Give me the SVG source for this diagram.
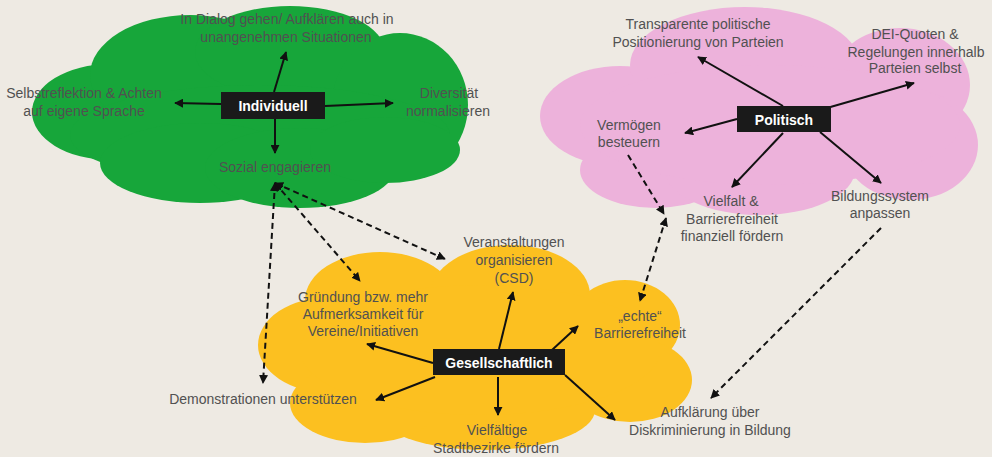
<svg xmlns="http://www.w3.org/2000/svg" width="992" height="457" viewBox="0 0 992 457">
<defs>
<marker id="ah" viewBox="0 0 10 10" refX="9" refY="5" markerWidth="9" markerHeight="9" markerUnits="userSpaceOnUse" orient="auto-start-reverse">
<path d="M0,0 L10,5 L0,10 z" fill="#111"/>
</marker>
</defs>
<style>
.lbl{font-family:"Liberation Sans",Arial,sans-serif;font-size:14px;fill:#515151;text-anchor:middle}
.box{fill:#1a1a1a}
.bt{font-family:"Liberation Sans",Arial,sans-serif;font-size:14px;font-weight:bold;fill:#ffffff;text-anchor:middle}
.sol{stroke:#111;stroke-width:2;fill:none;marker-end:url(#ah)}
.dsh{stroke:#111;stroke-width:2;fill:none;stroke-dasharray:6 4;marker-end:url(#ah)}
.dbl{marker-start:url(#ah)}
</style>
<rect width="992" height="457" fill="#EEEAE3"/>

<g id="cloud-green" fill="#17A63A">
<ellipse cx="110" cy="112" rx="78" ry="48"/>
<ellipse cx="190" cy="75" rx="100" ry="60"/>
<ellipse cx="290" cy="52" rx="95" ry="46"/>
<ellipse cx="400" cy="105" rx="68" ry="72"/>
<ellipse cx="260" cy="135" rx="190" ry="50"/>
<ellipse cx="200" cy="163" rx="100" ry="40"/>
<ellipse cx="300" cy="168" rx="95" ry="40"/>
<ellipse cx="385" cy="150" rx="75" ry="33"/>
</g>

<g id="cloud-pink" fill="#EDB2DB">
<ellipse cx="620" cy="116" rx="80" ry="50"/>
<ellipse cx="745" cy="65" rx="115" ry="58"/>
<ellipse cx="900" cy="85" rx="70" ry="57"/>
<ellipse cx="910" cy="145" rx="68" ry="55"/>
<ellipse cx="655" cy="170" rx="75" ry="38"/>
<ellipse cx="760" cy="170" rx="95" ry="45"/>
<ellipse cx="770" cy="125" rx="190" ry="60"/>
</g>

<g id="cloud-yellow" fill="#FCC020">
<ellipse cx="330" cy="345" rx="72" ry="48"/>
<ellipse cx="380" cy="300" rx="75" ry="48"/>
<ellipse cx="510" cy="295" rx="80" ry="50"/>
<ellipse cx="625" cy="325" rx="55" ry="45"/>
<ellipse cx="630" cy="380" rx="62" ry="42"/>
<ellipse cx="485" cy="410" rx="110" ry="40"/>
<ellipse cx="365" cy="403" rx="75" ry="40"/>
<ellipse cx="480" cy="350" rx="180" ry="65"/>
</g>

<g id="connectors">
<path class="sol" d="M274,92 L286,52"/>
<path class="sol" d="M221,104 L175,103"/>
<path class="sol" d="M325,106 L393,103"/>
<path class="sol" d="M275,119 L275,153"/>

<path class="sol" d="M783,106 L698,57"/>
<path class="sol" d="M820,110 L914,83"/>
<path class="sol" d="M737,119 L685,133"/>
<path class="sol" d="M783,133 L732,187"/>
<path class="sol" d="M820,132 L881,183"/>

<path class="sol" d="M499,349 L513,292"/>
<path class="sol" d="M433,363 L367,344"/>
<path class="sol" d="M435,377 L376,400"/>
<path class="sol" d="M498,377 L498,415"/>
<path class="sol" d="M552,350 L578,326"/>
<path class="sol" d="M565,375 L615,420"/>

<path class="dsh dbl" d="M275,183 L263,383"/>
<path class="dsh dbl" d="M275,183 L360,281"/>
<path class="dsh dbl" d="M275,183 L445,259"/>
<path class="dsh" d="M628,155 L664,214"/>
<path class="dsh dbl" d="M666,218 L640,301"/>
<path class="dsh" d="M881,228 L711,398"/>
</g>

<g id="n-individuell">
<rect class="box" x="221" y="92" width="104" height="27"/>
<text class="bt" x="273" y="110.5">Individuell</text>
</g>
<g id="n-dialog">
<text class="lbl" x="287" y="24">In Dialog gehen/ Aufklären auch in</text>
<text class="lbl" x="286" y="42">unangenehmen Situationen</text>
</g>
<g id="n-selbst">
<text class="lbl" x="84" y="98">Selbstreflektion &amp; Achten</text>
<text class="lbl" x="84" y="116">auf eigene Sprache</text>
</g>
<g id="n-diversitaet">
<text class="lbl" x="449" y="98">Diversität</text>
<text class="lbl" x="448" y="116">normalisieren</text>
</g>
<g id="n-sozial">
<text class="lbl" x="275" y="172">Sozial engagieren</text>
</g>

<g id="n-politisch">
<rect class="box" x="737" y="106" width="94" height="26"/>
<text class="bt" x="784" y="124.5">Politisch</text>
</g>
<g id="n-transparent">
<text class="lbl" x="698" y="29">Transparente politische</text>
<text class="lbl" x="698" y="47">Positionierung von Parteien</text>
</g>
<g id="n-dei">
<text class="lbl" x="915" y="39">DEI-Quoten &amp;</text>
<text class="lbl" x="916" y="57">Regelungen innerhalb</text>
<text class="lbl" x="915" y="73">Parteien selbst</text>
</g>
<g id="n-vermoegen">
<text class="lbl" x="629" y="130">Vermögen</text>
<text class="lbl" x="629" y="147">besteuern</text>
</g>
<g id="n-vielfalt">
<text class="lbl" x="731" y="206">Vielfalt &amp;</text>
<text class="lbl" x="732" y="224">Barrierefreiheit</text>
<text class="lbl" x="732" y="241">finanziell fördern</text>
</g>
<g id="n-bildungssystem">
<text class="lbl" x="880" y="201">Bildungssystem</text>
<text class="lbl" x="880" y="218">anpassen</text>
</g>

<g id="n-gesellschaftlich">
<rect class="box" x="433" y="349" width="132" height="26"/>
<text class="bt" x="499" y="367.5">Gesellschaftlich</text>
</g>
<g id="n-veranstaltungen">
<text class="lbl" x="514" y="247">Veranstaltungen</text>
<text class="lbl" x="514" y="265">organisieren</text>
<text class="lbl" x="514" y="283">(CSD)</text>
</g>
<g id="n-gruendung">
<text class="lbl" x="363" y="302">Gründung bzw. mehr</text>
<text class="lbl" x="363" y="319">Aufmerksamkeit für</text>
<text class="lbl" x="363" y="336">Vereine/Initiativen</text>
</g>
<g id="n-demonstrationen">
<text class="lbl" x="263" y="404">Demonstrationen unterstützen</text>
</g>
<g id="n-vielfaeltige">
<text class="lbl" x="497" y="435">Vielfältige</text>
<text class="lbl" x="496" y="453">Stadtbezirke fördern</text>
</g>
<g id="n-echte">
<text class="lbl" x="640" y="321">„echte“</text>
<text class="lbl" x="640" y="338">Barrierefreiheit</text>
</g>
<g id="n-aufklaerung">
<text class="lbl" x="710" y="417">Aufklärung über</text>
<text class="lbl" x="710" y="435">Diskriminierung in Bildung</text>
</g>
</svg>
